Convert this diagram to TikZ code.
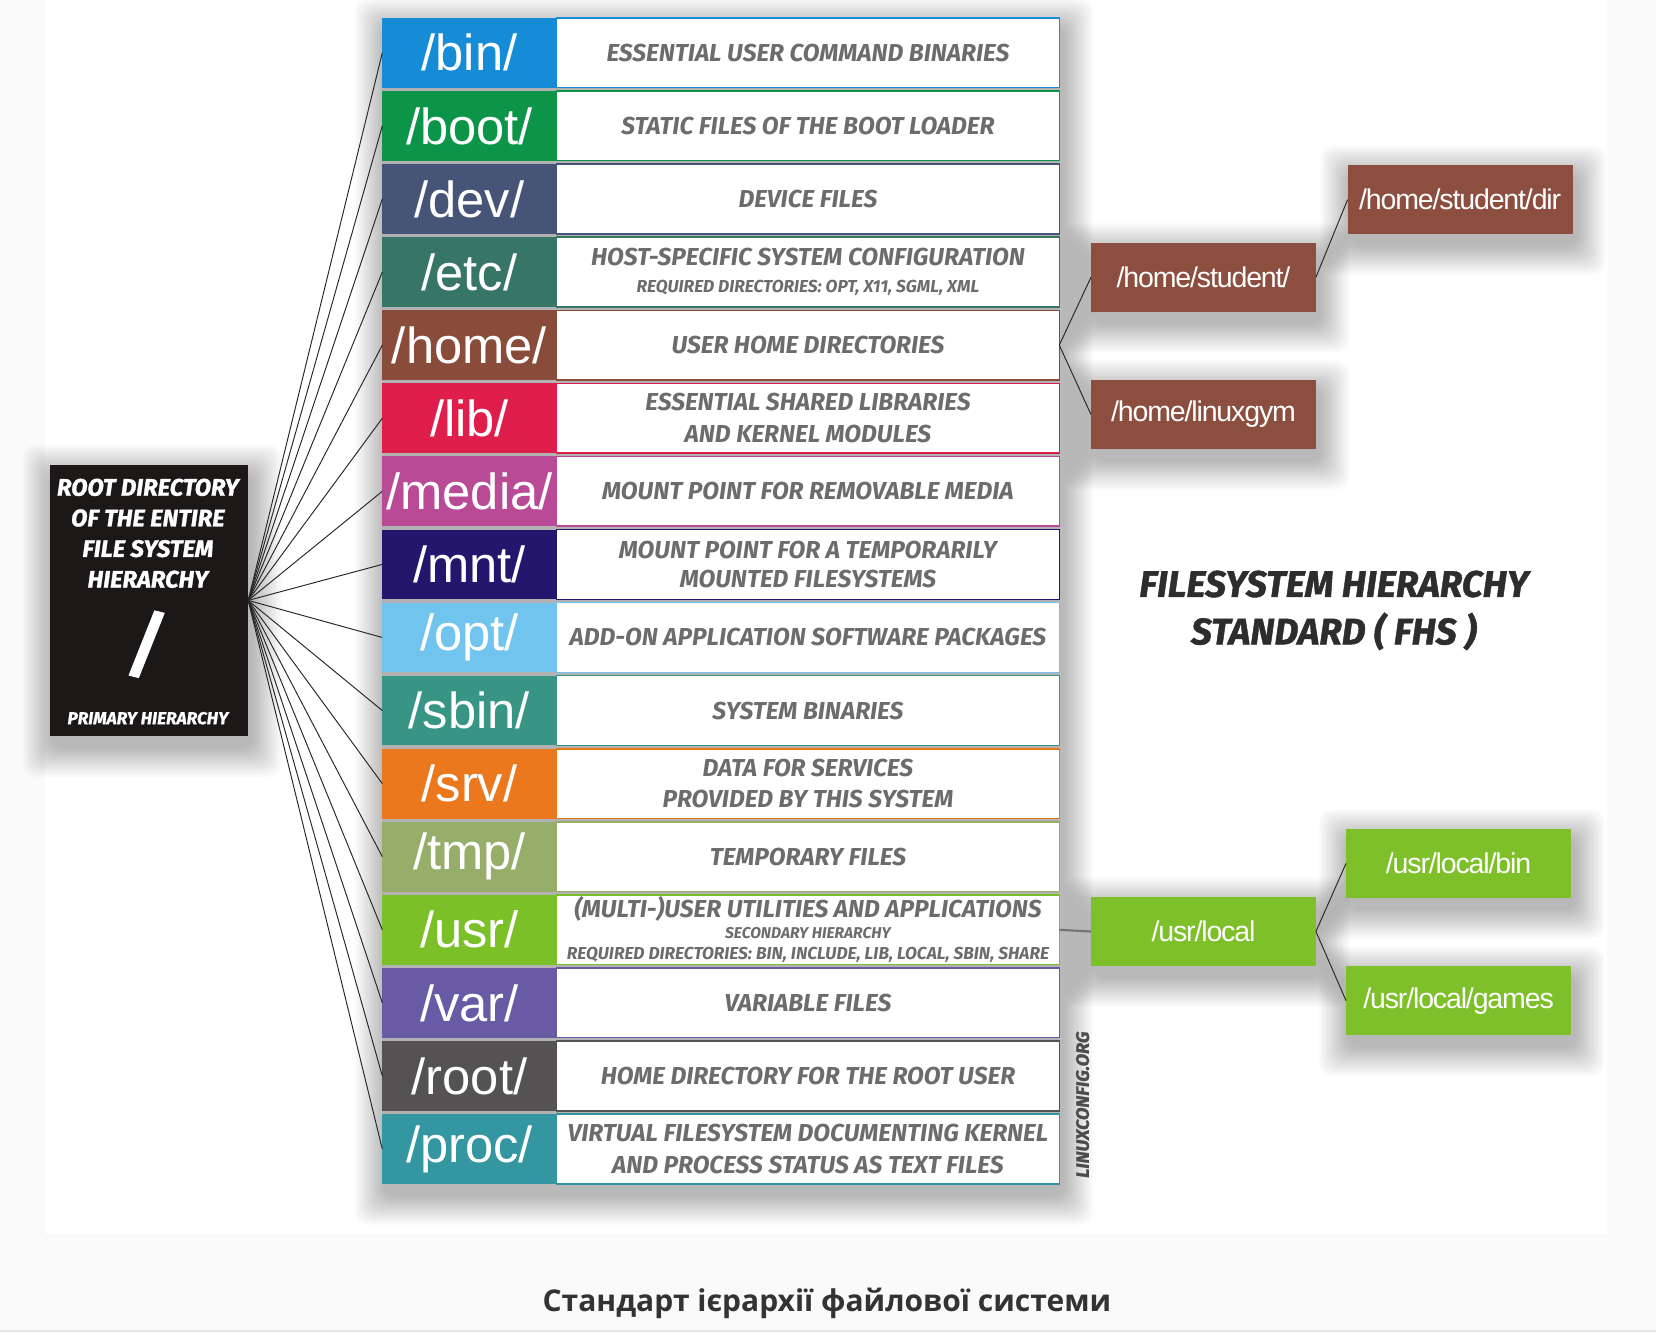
\documentclass[tikz,border=0pt]{standalone}
\usepackage{fontspec}
\newfontfamily\labfont{Liberation Sans}
\newfontfamily\comic{Fira Sans}
\newfontfamily\comicx[FakeBold=1.2]{Fira Sans}
\newfontfamily\childfont[LetterSpace=-4]{Liberation Sans}
\newfontfamily\capfont{Open Sans}
\definecolor{pagebg}{RGB}{250,250,250}
\definecolor{descgray}{RGB}{108,108,108}
\definecolor{titlegray}{RGB}{45,45,45}
\definecolor{rootblack}{RGB}{28,24,24}
\definecolor{cbin}{RGB}{22,140,214}
\definecolor{cboot}{RGB}{12,148,72}
\definecolor{cdev}{RGB}{70,84,120}
\definecolor{cetc}{RGB}{55,118,102}
\definecolor{chome}{RGB}{138,76,58}
\definecolor{clib}{RGB}{224,30,76}
\definecolor{cmedia}{RGB}{184,74,150}
\definecolor{cmnt}{RGB}{36,22,108}
\definecolor{copt}{RGB}{112,196,238}
\definecolor{csbin}{RGB}{56,148,132}
\definecolor{csrv}{RGB}{236,120,30}
\definecolor{ctmp}{RGB}{150,174,106}
\definecolor{cusr}{RGB}{124,192,40}
\definecolor{cvar}{RGB}{104,90,164}
\definecolor{croot}{RGB}{84,82,82}
\definecolor{cproc}{RGB}{52,150,160}
\definecolor{cbrown}{RGB}{140,78,62}
\definecolor{cgreen}{RGB}{126,192,42}
\tikzset{
  lab/.style={anchor=north west, minimum width=82.5pt, minimum height=33pt,
    inner sep=0pt, outer sep=0pt, text=white,
    font=\labfont\fontsize{24}{24}\selectfont},
  desc/.style={anchor=north west, fill=white, line width=0.7pt,
    minimum width=238pt, minimum height=33pt, inner sep=0pt, outer sep=0pt,
    align=center, text=descgray,
    font=\comic\bfseries\itshape\fontsize{11.6}{15}\selectfont},
  conn/.style={draw=black!85, line width=0.45pt},
  connu/.style={draw=black!55, line width=1pt},
  child/.style={minimum width=106.5pt, minimum height=32.5pt, inner sep=0pt,
    outer sep=0pt, text=white,
    font=\childfont\fontsize{13.5}{13.5}\selectfont},
}
\newcommand\sm{\fontsize{8.2}{9}\selectfont}
\newcommand\tn{\fontsize{7.4}{8}\selectfont}
\newcommand\fhsrow[5]{%
  \pgfmathsetmacro\ty{17+69.2*#1}%
  \node[lab, fill=#4] (l-#2) at (362,\ty) {#3};
  \node[desc, draw=#4] (t-#2) at (527,\ty) {#5};
}
% soft shadow drawn as stacked translucent rectangles
\newcommand\softsh[4]{%
  \foreach \k in {1,...,18}{%
    \pgfmathsetmacro\d{\k*1.6}%
    \fill[black, opacity=0.014, rounded corners=6pt]
      ({#1-\d+3},{#2-\d+10}) rectangle ({#3+\d+3},{#4+\d+10});
  }}
\begin{document}
\begin{tikzpicture}[x=0.5pt, y=-0.5pt]
\useasboundingbox (0,0) rectangle (1568,1262.2);
% backgrounds
\fill[pagebg] (0,0) rectangle (1568,1262.2);
\fill[white] (43,0) rectangle (1522,1168);
\draw[black!10, line width=1pt] (0,1260) -- (1568,1260);
% shadows
\softsh{362}{17}{1003}{1121}
\softsh{47}{440}{235}{697}
\softsh{1033}{230}{1246}{295}
\softsh{1033}{360}{1246}{425}
\softsh{1276}{156.5}{1489}{221.5}
\softsh{1033}{849.5}{1246}{914.5}
\softsh{1274.5}{785}{1487.5}{850}
\softsh{1274.5}{915}{1487.5}{980}
% row gaps
\fill[black!30] (362,17) rectangle (1003,1121);
% rows
\fhsrow{0}{bin}{/bin/}{cbin}{ESSENTIAL USER COMMAND BINARIES}
\fhsrow{1}{boot}{/boot/}{cboot}{STATIC FILES OF THE BOOT LOADER}
\fhsrow{2}{dev}{/dev/}{cdev}{DEVICE FILES}
\fhsrow{3}{etc}{/etc/}{cetc}{HOST-SPECIFIC SYSTEM CONFIGURATION\\[-2pt]{\sm REQUIRED DIRECTORIES: OPT, X11, SGML, XML}}
\fhsrow{4}{home}{/home/}{chome}{USER HOME DIRECTORIES}
\fhsrow{5}{lib}{/lib/}{clib}{ESSENTIAL SHARED LIBRARIES\\AND KERNEL MODULES}
\fhsrow{6}{media}{/media/}{cmedia}{MOUNT POINT FOR REMOVABLE MEDIA}
\fhsrow{7}{mnt}{/mnt/}{cmnt}{MOUNT POINT FOR A TEMPORARILY\\[-1pt]MOUNTED FILESYSTEMS}
\fhsrow{8}{opt}{/opt/}{copt}{ADD-ON APPLICATION SOFTWARE PACKAGES}
\fhsrow{9}{sbin}{/sbin/}{csbin}{SYSTEM BINARIES}
\fhsrow{10}{srv}{/srv/}{csrv}{DATA FOR SERVICES\\PROVIDED BY THIS SYSTEM}
\fhsrow{11}{tmp}{/tmp/}{ctmp}{TEMPORARY FILES}
\fhsrow{12}{usr}{/usr/}{cusr}{(MULTI-)USER UTILITIES AND APPLICATIONS\\[-5pt]{\tn SECONDARY HIERARCHY}\\[-5pt]{\sm REQUIRED DIRECTORIES: BIN, INCLUDE, LIB, LOCAL, SBIN, SHARE}}
\fhsrow{13}{var}{/var/}{cvar}{VARIABLE FILES}
\fhsrow{14}{root}{/root/}{croot}{HOME DIRECTORY FOR THE ROOT USER}
\fhsrow{15}{proc}{/proc/}{cproc}{VIRTUAL FILESYSTEM DOCUMENTING KERNEL\\AND PROCESS STATUS AS TEXT FILES}
% root directory box
\node[fill=rootblack, anchor=north west, minimum width=94pt, minimum height=128.5pt,
  inner sep=0pt, outer sep=0pt] (rootdir) at (47,440) {};
\node[text=white, align=center, font=\comicx\bfseries\itshape\fontsize{11.3}{14.5}\selectfont]
  (rootT) at (140,505) {ROOT DIRECTORY\\OF THE ENTIRE\\FILE SYSTEM\\HIERARCHY};
\node[text=white, font=\comicx\bfseries\itshape\fontsize{34}{34}\selectfont] (rootS) at (138,610) {/};
\node[text=white, font=\comicx\bfseries\itshape\fontsize{8.2}{9}\selectfont] (rootP) at (140,680) {PRIMARY HIERARCHY};
% connectors from root
\foreach \n in {bin,boot,dev,etc,home,lib,media,mnt,opt,sbin,srv,tmp,usr,var,root,proc}
  \draw[conn] (rootdir.east) -- (l-\n.west);
% home branch
\node[child, fill=cbrown] (hs) at (1139.5,262.5) {/home/student/};
\node[child, fill=cbrown] (hl) at (1139.5,392.5) {/home/linuxgym};
\node[child, fill=cbrown] (hsd) at (1382.5,189) {/home/student/dir};
\draw[conn] (t-home.east) -- (hs.west);
\draw[conn] (t-home.east) -- (hl.west);
\draw[conn] (hs.east) -- (hsd.west);
% usr branch
\node[child, fill=cgreen] (ul) at (1139.5,882) {/usr/local};
\node[child, fill=cgreen] (ub) at (1381,817.5) {/usr/local/bin};
\node[child, fill=cgreen] (ug) at (1381,947.5) {/usr/local/games};
\draw[connu] (t-usr.east) -- (ul.west);
\draw[conn] (ul.east) -- (ub.west);
\draw[conn] (ul.east) -- (ug.west);
% title
\node[text=titlegray, align=center, font=\comicx\bfseries\itshape\fontsize{17.5}{22.5}\selectfont]
  (title) at (1263,578) {FILESYSTEM HIERARCHY\\STANDARD ( FHS )};
\node[rotate=90, text=black!70, font=\comicx\bfseries\itshape\fontsize{8.6}{9}\selectfont]
  (credit) at (1025,1046) {LINUXCONFIG.ORG};
% caption
\node[text=black!80, font=\capfont\bfseries\fontsize{14.2}{16}\selectfont] (caption) at (783,1234)
  {Стандарт ієрархії файлової системи};
\end{tikzpicture}
\end{document}
